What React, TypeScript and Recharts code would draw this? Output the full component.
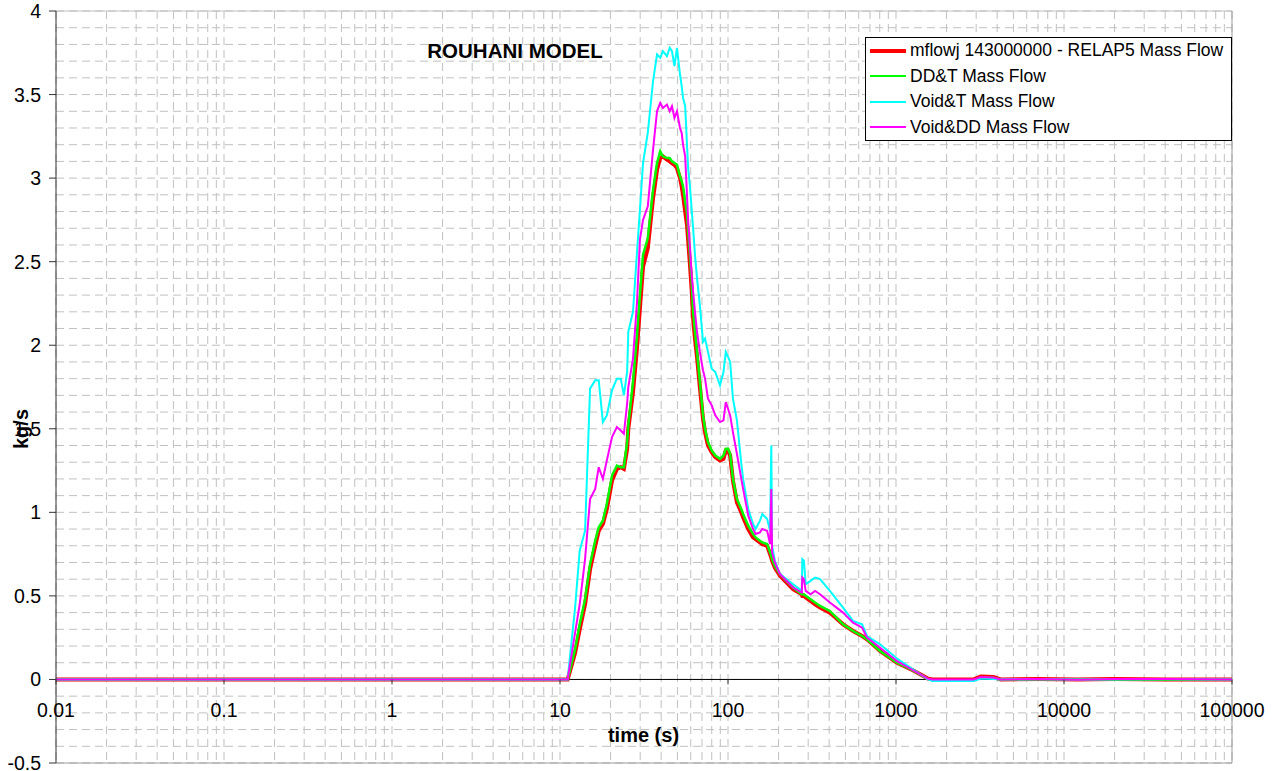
import React from 'react'
import { LineChart, Line, XAxis, YAxis, CartesianGrid, ReferenceLine } from 'recharts'

// time (s), shared by all four series
const TIME = [
  0.01, 11.1, 12.3, 13.1, 14.1, 15.1, 16.2, 17, 18, 19,
  20.4, 21.8, 23, 24, 25.1, 25.5, 27.2, 28.7, 29.9, 31.2,
  33.3, 35.8, 37.8, 39.5, 41, 43.3, 45, 46.4, 48, 49.7,
  51.8, 53, 54, 55.6, 57, 58, 59.4, 60.8, 62, 63.6,
  65.4, 68, 71, 73, 76, 80, 84, 89.6, 94, 97,
  100, 103, 107, 113, 120, 123, 132, 141, 146, 155,
  160, 171, 178, 181, 183, 190, 204, 244, 275, 277,
  283, 290, 310, 330, 353, 404, 484, 555, 628, 672,
  804, 1014, 1260, 1550, 1650, 2900, 3200, 3800, 4200, 7000,
  12000, 20000, 40000, 100000,
]

const RELAP5_FLOW = [
  0, 0, 0.16, 0.3, 0.45, 0.66, 0.8, 0.89, 0.93, 1.02,
  1.19, 1.26, 1.27, 1.26, 1.38, 1.5, 1.72, 1.98, 2.22, 2.47,
  2.58, 2.88, 3.05, 3.12, 3.13, 3.11, 3.1, 3.09, 3.08, 3.06,
  3.0, 2.95, 2.9, 2.8, 2.72, 2.62, 2.48, 2.33, 2.16, 2.04,
  1.93, 1.75, 1.56, 1.48, 1.4, 1.36, 1.33, 1.31, 1.32, 1.37,
  1.37, 1.34, 1.19, 1.06, 1.0, 0.97, 0.9, 0.85, 0.84, 0.82,
  0.81, 0.8, 0.75, 0.73, 0.71, 0.67, 0.62, 0.54, 0.51, 0.5,
  0.5, 0.49, 0.47, 0.45, 0.43, 0.4, 0.33, 0.29, 0.26, 0.24,
  0.17, 0.1, 0.055, 0.005, 0, 0, 0.018, 0.015, 0, 0.002,
  0, 0.002, 0, 0,
]

const DDT_FLOW = [
  0, 0, 0.18, 0.33, 0.48, 0.69, 0.83, 0.91, 0.95, 1.05,
  1.22, 1.28, 1.27, 1.27, 1.42, 1.52, 1.78, 2.05, 2.3, 2.54,
  2.64, 2.93, 3.09, 3.16, 3.13, 3.12, 3.12, 3.1, 3.09, 3.08,
  3.01, 2.98, 2.95, 2.86, 2.79, 2.68, 2.54, 2.38, 2.2, 2.08,
  1.96, 1.78, 1.58, 1.5, 1.42, 1.37, 1.34, 1.32, 1.34, 1.38,
  1.38, 1.35, 1.2, 1.08, 1.02, 0.99, 0.92, 0.87, 0.85, 0.83,
  0.82, 0.81, 0.76, 0.74, 0.72, 0.68, 0.63, 0.55, 0.51, 0.51,
  0.51, 0.5, 0.48, 0.46, 0.44, 0.41, 0.33, 0.29, 0.26, 0.24,
  0.17, 0.1, 0.054, 0.003, -0.005, -0.005, 0.012, 0.01, 0, 0.001,
  0, 0.001, 0, 0,
]

const VOID_T_FLOW = [
  0, 0, 0.43, 0.77, 0.89, 1.74, 1.79, 1.79, 1.54, 1.58,
  1.73, 1.8, 1.8, 1.7, 1.84, 2.08, 2.2, 2.55, 2.81, 3.09,
  3.27, 3.58, 3.74, 3.72, 3.76, 3.73, 3.78, 3.76, 3.67, 3.78,
  3.62, 3.55, 3.48, 3.43, 3.2, 3.05, 2.95, 2.81, 2.7, 2.54,
  2.4, 2.24, 2.02, 2.04, 1.96, 1.86, 1.84, 1.76, 1.84, 1.96,
  1.93, 1.9, 1.68, 1.55, 1.29, 1.2, 1.02, 0.93, 0.9, 0.95,
  0.99, 0.96, 0.89, 1.4, 0.8, 0.71, 0.63, 0.57, 0.53, 0.72,
  0.71, 0.57, 0.59, 0.61, 0.6, 0.53, 0.43, 0.35, 0.33, 0.26,
  0.21, 0.125, 0.06, 0, -0.01, -0.01, 0.005, 0.003, 0, 0.001,
  -0.001, 0, 0.001, 0,
]

const VOID_DD_FLOW = [
  0, 0, 0.28, 0.45, 0.72, 1.08, 1.14, 1.27, 1.2, 1.31,
  1.45, 1.51, 1.49, 1.47, 1.65, 1.75, 1.92, 2.25, 2.63, 2.75,
  2.83, 3.17, 3.4, 3.45, 3.42, 3.44, 3.4, 3.43, 3.36, 3.4,
  3.3, 3.27, 3.2, 3.13, 2.9, 2.73, 2.58, 2.42, 2.32, 2.2,
  2.08, 1.96, 1.85, 1.8, 1.68, 1.64, 1.58, 1.54, 1.55, 1.66,
  1.62, 1.58, 1.48, 1.35, 1.2, 1.14, 0.98, 0.9, 0.87, 0.88,
  0.9, 0.89, 0.81, 1.14, 0.76, 0.7, 0.63, 0.55, 0.52, 0.61,
  0.6, 0.53, 0.51, 0.53, 0.51, 0.46, 0.4, 0.34, 0.31, 0.25,
  0.19, 0.11, 0.055, 0.005, 0, 0, 0.015, 0.012, 0, 0.003,
  -0.002, 0.002, 0.003, 0,
]

const X_DECADES = [0.01, 0.1, 1, 10, 100, 1000, 10000, 100000]
const X_LABELS = ['0.01', '0.1', '1', '10', '100', '1000', '10000', '100000']
const Y_VALUES = [-0.5, 0, 0.5, 1, 1.5, 2, 2.5, 3, 3.5, 4]
const Y_LABELS = ['-0.5', '0', '0.5', '1', '1.5', '2', '2.5', '3', '3.5', '4']

const SERIES = [
  { key: 'relap', name: 'mflowj 143000000 - RELAP5 Mass Flow', color: '#ff0000', width: 4 },
  { key: 'ddt', name: 'DD&T Mass Flow', color: '#00ff00', width: 2.5 },
  { key: 'voidT', name: 'Void&T Mass Flow', color: '#00ffff', width: 2 },
  { key: 'voidDD', name: 'Void&DD Mass Flow', color: '#ff00ff', width: 2 },
]

const data = TIME.map((t, i) => ({
  t,
  relap: RELAP5_FLOW[i],
  ddt: DDT_FLOW[i],
  voidT: VOID_T_FLOW[i],
  voidDD: VOID_DD_FLOW[i],
}))

// log minor grid: 1..9 x each decade
const X_TICKS = X_DECADES.slice(0, -1)
  .flatMap((d) => [1, 2, 3, 4, 5, 6, 7, 8, 9].map((k) => d * k))
  .concat([100000])
const Y_TICKS = Array.from({ length: 46 }, (_, i) => Math.round((-0.5 + i * 0.1) * 10) / 10)

const W = 1279
const H = 771
const PLOT_LEFT = 56
const PLOT_TOP = 11
const PLOT_RIGHT = 1232
const PLOT_BOTTOM = 763
const Y_MIN = -0.5
const Y_MAX = 4
const ZERO_Y = PLOT_TOP + ((Y_MAX - 0) / (Y_MAX - Y_MIN)) * (PLOT_BOTTOM - PLOT_TOP)
const FONT = 'Arial, "Liberation Sans", sans-serif'

function TimeTick({ x, payload }: any) {
  const i = X_DECADES.findIndex((d) => Math.abs(d - payload.value) / d < 1e-9)
  if (i < 0) return <g />
  return (
    <g>
      <line x1={x} x2={x} y1={ZERO_Y} y2={ZERO_Y + 5} stroke="#333" />
      <text x={x} y={ZERO_Y + 38} textAnchor="middle" fontSize={19.5} fontFamily={FONT} fill="#000">
        {X_LABELS[i]}
      </text>
    </g>
  )
}

function FlowTick({ y, payload }: any) {
  const i = Y_VALUES.findIndex((v) => Math.abs(v - payload.value) < 1e-6)
  if (i < 0) return <g />
  return (
    <g>
      <line x1={PLOT_LEFT - 7} x2={PLOT_LEFT} y1={y} y2={y} stroke="#333" />
      <text x={PLOT_LEFT - 15} y={y} dy="0.36em" textAnchor="end" fontSize={19.5} fontFamily={FONT} fill="#000">
        {Y_LABELS[i]}
      </text>
    </g>
  )
}

export default function App() {
  return (
    <div style={{ position: 'absolute', left: 0, top: 0, width: W, height: H, background: '#fff', fontFamily: FONT }}>
      <LineChart
        width={W}
        height={H}
        data={data}
        margin={{ top: PLOT_TOP, right: W - PLOT_RIGHT, bottom: 0, left: 0 }}
      >
        <CartesianGrid strokeDasharray="8 5" stroke="#c0c0c0" />
        <XAxis
          dataKey="t"
          type="number"
          scale="log"
          domain={[0.01, 100000]}
          ticks={X_TICKS}
          interval={0}
          allowDataOverflow
          height={H - PLOT_BOTTOM}
          tickLine={false}
          axisLine={{ stroke: '#999' }}
          tick={(p: any) => <TimeTick {...p} />}
        />
        <YAxis
          type="number"
          domain={[Y_MIN, Y_MAX]}
          ticks={Y_TICKS}
          interval={0}
          allowDataOverflow
          width={PLOT_LEFT}
          tickLine={false}
          axisLine={{ stroke: '#333' }}
          tick={(p: any) => <FlowTick {...p} />}
        />
        <ReferenceLine y={Y_MAX} stroke="#c0c0c0" />
        <ReferenceLine x={100000} stroke="#999" />
        <ReferenceLine y={0} stroke="#000" />
        {SERIES.map((s) => (
          <Line
            key={s.key}
            type="linear"
            dataKey={s.key}
            name={s.name}
            stroke={s.color}
            strokeWidth={s.width}
            dot={false}
            activeDot={false}
            isAnimationActive={false}
          />
        ))}
      </LineChart>

      <div
        style={{
          position: 'absolute', left: 415, top: 41, width: 200, textAlign: 'center',
          fontSize: 20.5, lineHeight: 1, fontWeight: 'bold', color: '#000',
        }}
      >
        ROUHANI MODEL
      </div>

      <div
        style={{
          position: 'absolute', left: 543.5, top: 725, width: 200, textAlign: 'center',
          fontSize: 20, lineHeight: 1, fontWeight: 'bold', color: '#000',
        }}
      >
        time (s)
      </div>

      <div
        style={{
          position: 'absolute', left: -29, top: 417, width: 100, height: 24, lineHeight: '24px',
          textAlign: 'center', fontSize: 20, fontWeight: 'bold', color: '#000',
          transform: 'rotate(-90deg)',
        }}
      >
        kg/s
      </div>

      <div
        style={{
          position: 'absolute', left: 865, top: 37, width: PLOT_RIGHT - 865, height: 104,
          boxSizing: 'border-box', border: '1px solid #000', background: '#fff',
        }}
      >
        {SERIES.map((s) => (
          <div key={s.key} style={{ display: 'flex', alignItems: 'center', height: 25.5 }}>
            <div style={{ marginLeft: 4, width: 36, height: s.key === 'relap' ? 4 : 2, background: s.color }} />
            <span style={{ marginLeft: 4, fontSize: 17.5, color: '#000', whiteSpace: 'nowrap' }}>{s.name}</span>
          </div>
        ))}
      </div>
    </div>
  )
}
